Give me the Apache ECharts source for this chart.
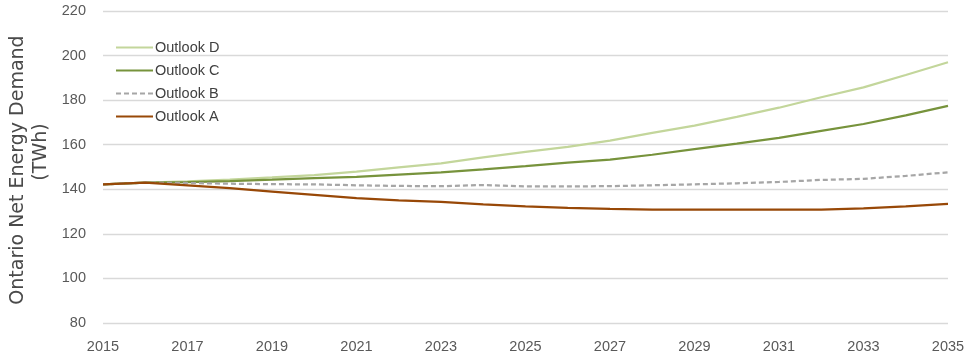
<!DOCTYPE html>
<html>
<head>
<meta charset="utf-8">
<script src="https://cdn.jsdelivr.net/npm/echarts@6/dist/echarts.min.js"></script>
<style>html,body{margin:0;padding:0;background:#fff;}#c{width:975px;height:360px;}</style>
</head>
<body>
<div id="c"></div>
<script>
var years = ['2015','2016','2017','2018','2019','2020','2021','2022','2023','2024','2025','2026','2027','2028','2029','2030','2031','2032','2033','2034','2035'];
var outlookA = [142.2,143.0,141.8,140.5,139.0,137.5,136.0,135.0,134.3,133.2,132.3,131.7,131.2,130.9,130.9,130.9,130.9,130.9,131.4,132.3,133.4];
var outlookB = [142.2,143.0,142.8,142.5,142.3,142.2,141.8,141.5,141.4,141.9,141.3,141.3,141.4,141.8,142.2,142.7,143.3,144.2,144.7,146.0,147.6];
var outlookC = [142.2,143.0,143.2,143.7,144.3,145.0,145.6,146.6,147.6,148.9,150.4,152.0,153.3,155.5,158.0,160.5,163.1,166.2,169.3,173.2,177.4];
var outlookD = [142.2,143.0,143.5,144.3,145.3,146.4,147.9,149.8,151.6,154.3,156.8,159.0,161.8,165.3,168.6,172.5,176.6,181.3,185.7,191.3,197.0];
var yTicks = {min:80, max:220, interval:20};
var yTitle = ['Ontario Net Energy Demand', '(TWh)'];

var chart = echarts.init(document.getElementById('c'));
function mk(name, data, color, dashed) {
  return {
    name: name, type: 'line', data: data, symbol: 'none', smooth: false,
    lineStyle: {color: color, width: 2.25, type: dashed ? [5,3] : 'solid'},
    itemStyle: {color: color}
  };
}
chart.setOption({
  animation: false,
  grid: {left: 103, right: 27, top: 11, bottom: 37},
  legend: {
    orient: 'vertical', left: 110, top: 35,
    itemWidth: 37, itemHeight: 12, itemGap: 8,
    itemStyle: {opacity: 0},
    data: ['Outlook D','Outlook C','Outlook B','Outlook A'],
    textStyle: {fontFamily: 'Liberation Sans', fontSize: 14.5, color: '#404040', padding: [0,0,0,-3]}
  },
  xAxis: {
    type: 'category', data: years, boundaryGap: false,
    axisLine: {show: false}, axisTick: {show: false},
    axisLabel: {interval: 1, color: '#595959', fontFamily: 'Liberation Sans', fontSize: 14.5, margin: 16}
  },
  yAxis: {
    type: 'value', min: yTicks.min, max: yTicks.max, interval: yTicks.interval,
    axisLine: {show: false}, axisTick: {show: false},
    axisLabel: {color: '#595959', fontFamily: 'Liberation Sans', fontSize: 14.5, margin: 17},
    splitLine: {lineStyle: {color: '#D9D9D9', width: 1.3}}
  },
  graphic: [
    {type: 'text', x: 18, y: 170, rotation: Math.PI/2,
     style: {text: yTitle[0], fill: '#4a4a4a', font: '19px "DejaVu Sans"', align: 'center', verticalAlign: 'middle'}},
    {type: 'text', x: 41, y: 152, rotation: Math.PI/2,
     style: {text: yTitle[1], fill: '#4a4a4a', font: '19px "DejaVu Sans"', align: 'center', verticalAlign: 'middle'}}
  ],
  series: [
    mk('Outlook D', outlookD, '#C3D69B', false),
    mk('Outlook C', outlookC, '#77933C', false),
    mk('Outlook B', outlookB, '#A6A6A6', true),
    mk('Outlook A', outlookA, '#984807', false)
  ]
});
</script>
</body>
</html>
